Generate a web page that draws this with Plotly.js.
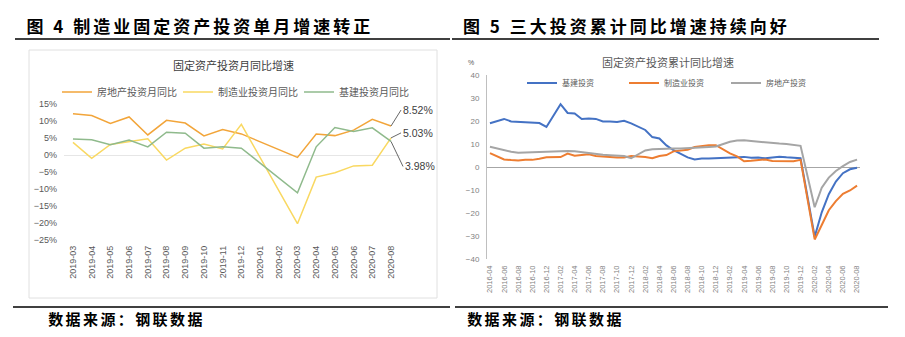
<!DOCTYPE html>
<html>
<head>
<meta charset="utf-8">
<script src="https://cdn.plot.ly/plotly-3.0.1.min.js"></script>
<style>
html,body{margin:0;padding:0;background:#fff;}
#chart{width:905px;height:337px;}
</style>
</head>
<body>
<div id="chart"></div>
<script>
// ---------- Figure 4: monthly YoY (%) ----------
var months4 = ['2019-03','2019-04','2019-05','2019-06','2019-07','2019-08','2019-09','2019-10','2019-11','2019-12',
               '2020-01','2020-02','2020-03','2020-04','2020-05','2020-06','2020-07','2020-08'];
var realEstate4    = [12.1, 11.6, 9.3, 11.2, 5.9, 10.2, 9.4, 5.6, 7.5, 6.2, null, null, -0.7, 6.2, 5.7, 7.3, 10.5, 8.52];
var manufacturing4 = [3.7, -1.0, 3.1, 4.0, 4.8, -1.5, 2.0, 3.2, 1.8, 9.0, null, null, -20.2, -6.5, -5.2, -3.2, -3.0, 5.03];
var infra4         = [4.7, 4.5, 3.0, 4.4, 2.4, 6.7, 6.4, 2.0, 2.4, 2.0, null, null, -11.1, 2.4, 8.1, 6.9, 8.0, 3.98];
var names4 = ['房地产投资月同比', '制造业投资月同比', '基建投资月同比'];
var yTicks4 = [15, 10, 5, 0, -5, -10, -15, -20, -25];

// ---------- Figure 5: cumulative YoY (%) ----------
var months5 = ['2016-04','2016-05','2016-06','2016-07','2016-08','2016-09','2016-10','2016-11','2016-12',
  '2017-01','2017-02','2017-03','2017-04','2017-05','2017-06','2017-07','2017-08','2017-09','2017-10','2017-11','2017-12',
  '2018-01','2018-02','2018-03','2018-04','2018-05','2018-06','2018-07','2018-08','2018-09','2018-10','2018-11','2018-12',
  '2019-01','2019-02','2019-03','2019-04','2019-05','2019-06','2019-07','2019-08','2019-09','2019-10','2019-11','2019-12',
  '2020-01','2020-02','2020-03','2020-04','2020-05','2020-06','2020-07','2020-08'];
var infra5 = [19.0,20.0,20.9,19.8,19.6,19.4,19.4,19.1,17.4,null,
  27.3,23.5,23.3,20.9,21.1,20.9,19.8,19.8,19.6,20.1,19.0,null,
  16.1,13.0,12.4,9.4,7.3,5.7,4.2,3.3,3.7,3.7,3.8,null,
  4.3,4.4,4.4,4.0,4.1,3.8,4.2,4.5,4.2,4.0,3.8,null,
  -30.3,-19.7,-11.8,-6.3,-2.7,-1.0,-0.3];
var manufacturing5 = [6.0,4.6,3.3,3.0,2.8,3.1,3.1,3.6,4.2,null,
  4.3,5.8,4.9,5.1,5.5,4.8,4.5,4.2,4.1,4.1,4.8,null,
  4.3,3.8,4.8,5.2,6.8,7.3,7.5,8.7,9.1,9.5,9.5,null,
  5.9,4.6,2.5,2.7,3.0,3.3,2.6,2.5,2.6,2.5,3.1,null,
  -31.5,-25.2,-18.8,-14.8,-11.7,-10.2,-8.1];
var realEstate5 = [8.8,8.0,7.4,6.6,6.2,6.3,6.5,6.6,6.8,null,
  7.0,7.0,6.8,6.4,5.8,5.5,5.3,5.1,5.0,4.8,3.8,null,
  7.2,7.7,7.9,8.0,8.0,8.0,8.1,8.3,8.5,8.7,8.9,null,
  11.0,11.5,11.6,11.3,11.0,10.5,10.3,10.2,10.0,9.6,9.2,null,
  -17.5,-9.0,-4.6,-1.7,0.4,2.2,3.2];
var names5 = ['基建投资', '制造业投资', '房地产投资'];
var yTicks5 = [40, 30, 20, 10, 0, -10, -20, -30, -40];
var xTicks5 = months5.filter(function(m, i){ return i % 2 === 0; });

// ---------- helpers ----------
var W = 905, H = 337;
function px(x){ return x / W; }
function py(y){ return 1 - y / H; }
var CJK = '"Noto Sans CJK SC", sans-serif';
var NUM = '"Liberation Sans", "Noto Sans CJK SC", sans-serif';

var traces = [
  {x: months4, y: realEstate4, name: names4[0], type: 'scatter', mode: 'lines', connectgaps: true,
   line: {color: '#F2A53A', width: 1.5}, xaxis: 'x', yaxis: 'y', legend: 'legend'},
  {x: months4, y: manufacturing4, name: names4[1], type: 'scatter', mode: 'lines', connectgaps: true,
   line: {color: '#F9D861', width: 1.5}, xaxis: 'x', yaxis: 'y', legend: 'legend'},
  {x: months4, y: infra4, name: names4[2], type: 'scatter', mode: 'lines', connectgaps: true,
   line: {color: '#8FBA8C', width: 1.5}, xaxis: 'x', yaxis: 'y', legend: 'legend'},

  {x: months5, y: infra5, name: names5[0], type: 'scatter', mode: 'lines', connectgaps: true,
   line: {color: '#4472C4', width: 2}, xaxis: 'x2', yaxis: 'y2', legend: 'legend2'},
  {x: months5, y: manufacturing5, name: names5[1], type: 'scatter', mode: 'lines', connectgaps: true,
   line: {color: '#ED7D31', width: 2}, xaxis: 'x2', yaxis: 'y2', legend: 'legend2'},
  {x: months5, y: realEstate5, name: names5[2], type: 'scatter', mode: 'lines', connectgaps: true,
   line: {color: '#A5A5A5', width: 2}, xaxis: 'x2', yaxis: 'y2', legend: 'legend2'}
];

var n4 = months4.length - 1;
var ann4font = {family: NUM, size: 10.5, color: '#404040'};

var layout = {
  width: W, height: H,
  margin: {l: 0, r: 0, t: 0, b: 0},
  paper_bgcolor: '#ffffff', plot_bgcolor: 'rgba(0,0,0,0)',
  showlegend: true,
  xaxis: {
    domain: [px(64), px(400)], type: 'category', categoryorder: 'array', categoryarray: months4,
    range: [-0.48, 17.48], showgrid: false, zeroline: false, showline: false, ticks: '',
    tickangle: -90, tickfont: {family: NUM, size: 9, color: '#595959'}, anchor: 'y', fixedrange: true,
    ticklabelstandoff: 3
  },
  yaxis: {
    domain: [py(240), py(104)], range: [-25, 15], tickmode: 'array', tickvals: yTicks4,
    ticktext: yTicks4.map(function(v){ return (v < 0 ? '\u2212' + (-v) : v) + '%'; }),
    showgrid: false, zeroline: true, zerolinecolor: '#E6E6E6', zerolinewidth: 1, showline: false, ticks: '',
    tickfont: {family: NUM, size: 9, color: '#595959'}, anchor: 'x', fixedrange: true, ticklabelstandoff: 6
  },
  xaxis2: {
    domain: [px(487), px(860)], type: 'category', categoryorder: 'array', categoryarray: months5,
    range: [-0.42, 52.42], showgrid: false, zeroline: false, showline: false, ticks: '',
    tickmode: 'array', tickvals: xTicks5, ticktext: xTicks5,
    tickangle: -90, tickfont: {family: NUM, size: 7.5, color: '#7F7F7F'}, anchor: 'y2', fixedrange: true,
    ticklabelstandoff: 4
  },
  yaxis2: {
    domain: [py(259), py(75)], range: [-40, 40], tickmode: 'array', tickvals: yTicks5,
    ticktext: yTicks5.map(function(v){ return v < 0 ? '\u2212' + (-v) : String(v); }),
    showgrid: false, zeroline: true, zerolinecolor: '#A6A6A6', zerolinewidth: 1,
    showline: true, linecolor: '#BFBFBF', linewidth: 1, ticks: '',
    tickfont: {family: NUM, size: 8, color: '#7F7F7F'}, anchor: 'x2', fixedrange: true, ticklabelstandoff: 5
  },
  legend: {
    orientation: 'h', x: px(57), xanchor: 'left', y: py(92), yanchor: 'middle',
    font: {family: CJK, size: 10, color: '#595959'}, entrywidth: 76, entrywidthmode: 'pixels',
    bgcolor: 'rgba(0,0,0,0)', borderwidth: 0, traceorder: 'normal', itemclick: false, itemdoubleclick: false
  },
  legend2: {
    orientation: 'h', x: px(522), xanchor: 'left', y: py(83), yanchor: 'middle',
    font: {family: CJK, size: 8, color: '#595959'}, entrywidth: 57, entrywidthmode: 'pixels',
    bgcolor: 'rgba(0,0,0,0)', borderwidth: 0, traceorder: 'normal', itemclick: false, itemdoubleclick: false
  },
  shapes: [
    {type: 'line', xref: 'paper', yref: 'paper', x0: px(15), x1: px(450), y0: py(39), y1: py(39), line: {color: '#000', width: 1.5}},
    {type: 'line', xref: 'paper', yref: 'paper', x0: px(452), x1: px(879), y0: py(39), y1: py(39), line: {color: '#000', width: 1.5}},
    {type: 'line', xref: 'paper', yref: 'paper', x0: px(13), x1: px(450), y0: py(307), y1: py(307), line: {color: '#000', width: 1.5}},
    {type: 'line', xref: 'paper', yref: 'paper', x0: px(455), x1: px(888), y0: py(307), y1: py(307), line: {color: '#000', width: 1.5}},
    {type: 'rect', xref: 'paper', yref: 'paper', x0: px(29), x1: px(437), y0: py(298), y1: py(50), line: {color: '#E0E0E0', width: 1}}
  ],
  annotations: [
    {text: '<b>图 4 制造业固定资产投资单月增速转正</b>', xref: 'paper', yref: 'paper', x: px(200), y: py(25),
     xanchor: 'center', yanchor: 'middle', showarrow: false, font: {family: CJK, size: 17, color: '#000'}},
    {text: '<b>图 5 三大投资累计同比增速持续向好</b>', xref: 'paper', yref: 'paper', x: px(626), y: py(25),
     xanchor: 'center', yanchor: 'middle', showarrow: false, font: {family: CJK, size: 17, color: '#000'}},
    {text: '<b>数据来源：钢联数据</b>', xref: 'paper', yref: 'paper', x: px(127), y: py(318),
     xanchor: 'center', yanchor: 'middle', showarrow: false, font: {family: CJK, size: 15, color: '#000'}},
    {text: '<b>数据来源：钢联数据</b>', xref: 'paper', yref: 'paper', x: px(545), y: py(318),
     xanchor: 'center', yanchor: 'middle', showarrow: false, font: {family: CJK, size: 15, color: '#000'}},
    {text: '固定资产投资月同比增速', xref: 'paper', yref: 'paper', x: px(233), y: py(65),
     xanchor: 'center', yanchor: 'middle', showarrow: false, font: {family: CJK, size: 11, color: '#404040'}},
    {text: '固定资产投资累计同比增速', xref: 'paper', yref: 'paper', x: px(668), y: py(62),
     xanchor: 'center', yanchor: 'middle', showarrow: false, font: {family: CJK, size: 11, color: '#595959'}},
    {text: '%', xref: 'paper', yref: 'paper', x: px(471), y: py(62),
     xanchor: 'center', yanchor: 'middle', showarrow: false, font: {family: NUM, size: 7, color: '#595959'}},
    {text: realEstate4[n4].toFixed(2) + '%', xref: 'x', yref: 'y', x: months4[n4], y: realEstate4[n4],
     ax: 10, ay: -16, showarrow: true, arrowhead: 0, arrowwidth: 0.8, arrowcolor: '#404040', standoff: 0,
     xanchor: 'left', font: ann4font},
    {text: manufacturing4[n4].toFixed(2) + '%', xref: 'x', yref: 'y', x: months4[n4], y: manufacturing4[n4],
     ax: 10, ay: -5, showarrow: true, arrowhead: 0, arrowwidth: 0.8, arrowcolor: '#404040', standoff: 0,
     xanchor: 'left', font: ann4font},
    {text: infra4[n4].toFixed(2) + '%', xref: 'x', yref: 'y', x: months4[n4], y: infra4[n4],
     ax: 12, ay: 25, showarrow: true, arrowhead: 0, arrowwidth: 0.8, arrowcolor: '#404040', standoff: 0,
     xanchor: 'left', font: ann4font}
  ]
};

Plotly.newPlot('chart', traces, layout, {displayModeBar: false, staticPlot: true}).then(function(){
  var texts = document.querySelectorAll('.annotation-text');
  texts.forEach(function(t){
    var s = t.textContent;
    if (s.indexOf('图') === 0) t.style.letterSpacing = '3px';
    else if (s.indexOf('数据来源') === 0) t.style.letterSpacing = '2.4px';
  });
});
</script>
</body>
</html>
